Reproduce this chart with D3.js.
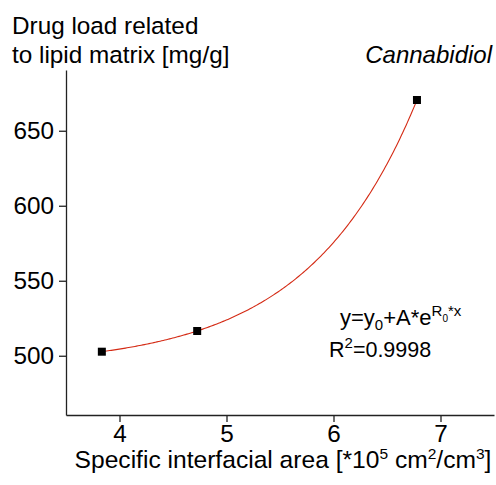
<!DOCTYPE html>
<html><head><meta charset="utf-8">
<script src="https://cdn.jsdelivr.net/npm/d3@7"></script>
<style>body{margin:0;background:#fff}svg{display:block;font-family:"Liberation Sans",Arial,sans-serif}</style>
</head><body><svg id="c" width="496" height="485"></svg>
<script>
const xValues = [3.835, 4.726, 6.78];
const yValues = [502.7, 516.5, 670.5];
const xTicks = [4, 5, 6, 7];
const yTicks = [500, 550, 600, 650];
const fitY0 = 492.8, fitA = 0.2312, fitR0 = 0.98;

const svg = d3.select("#c");
const x = d3.scaleLinear().domain([3.5, 7.5]).range([66, 494]);
const y = d3.scaleLinear().domain([460.5, 690.5]).range([415, 70]);
const ink = "#222";

// axes
const xMinor = d3.range(3.5, 7.51, 0.5).filter(v => !xTicks.includes(v));
const yMinor = [475, 525, 575, 625, 675];
const gx = svg.append("g").attr("transform", "translate(0,415)");
gx.call(d3.axisBottom(x).tickValues(xMinor).tickSize(4).tickFormat("")).call(g => g.select(".domain").remove());
gx.call(d3.axisBottom(x).tickValues(xTicks).tickSize(7).tickSizeOuter(0).tickPadding(3).tickFormat(d3.format("d")));
const gy = svg.append("g").attr("transform", "translate(66,0)");
gy.call(d3.axisLeft(y).tickValues(yMinor).tickSize(4).tickFormat("")).call(g => g.select(".domain").remove());
gy.call(d3.axisLeft(y).tickValues(yTicks).tickSize(7).tickSizeOuter(0).tickPadding(5).tickFormat(d3.format("d")));
svg.selectAll(".domain, .tick line").attr("stroke", ink).attr("stroke-width", 1.3);
svg.selectAll(".tick text").attr("fill", "#000").style("font-size", "24.3px").style("font-family", '"Liberation Sans",Arial,sans-serif');

// fit curve
const curveX = d3.range(0, 201).map(i => xValues[0] + (xValues[2] - xValues[0]) * i / 200);
const line = d3.line().x(d => x(d)).y(d => y(fitY0 + fitA * Math.exp(fitR0 * d)));
svg.append("path").datum(curveX).attr("d", line).attr("fill", "none").attr("stroke", "#d42a14").attr("stroke-width", 1.1);

// points
svg.selectAll("rect.pt").data(xValues).join("rect").attr("class", "pt")
  .attr("x", (d) => x(d) - 4).attr("y", (d, i) => y(yValues[i]) - 4)
  .attr("width", 8).attr("height", 8).attr("fill", "#000");

// labels
const T = (tx, ty, s, size, anchor) => svg.append("text").attr("x", tx).attr("y", ty).attr("font-size", size).attr("text-anchor", anchor || "start").text(s);
T(12, 34, "Drug load related", 24.3);
T(12, 63, "to lipid matrix [mg/g]", 24.3);
T(492, 63, "Cannabidiol", 24, "end").attr("font-style", "italic");

const xt = svg.append("text").attr("x", 283).attr("y", 468).attr("font-size", 24.6).attr("text-anchor", "middle");
xt.append("tspan").text("Specific interfacial area [*10");
xt.append("tspan").text("5").attr("font-size", 15.5).attr("dy", -9);
xt.append("tspan").text(" cm").attr("dy", 9);
xt.append("tspan").text("2").attr("font-size", 15.5).attr("dy", -9);
xt.append("tspan").text("/cm").attr("dy", 9);
xt.append("tspan").text("3").attr("font-size", 15.5).attr("dy", -9);
xt.append("tspan").text("]").attr("dy", 9);

const eq = svg.append("text").attr("x", 340).attr("y", 325).attr("font-size", 22);
eq.append("tspan").text("y=y");
eq.append("tspan").text("0").attr("font-size", 15).attr("dy", 5);
eq.append("tspan").text("+A*e").attr("dy", -5);
eq.append("tspan").text("R").attr("font-size", 15).attr("dy", -9);
eq.append("tspan").text("0").attr("font-size", 10).attr("dy", 6);
eq.append("tspan").text("*x").attr("font-size", 15).attr("dy", -6);

const r2 = svg.append("text").attr("x", 329).attr("y", 357).attr("font-size", 21.5);
r2.append("tspan").text("R");
r2.append("tspan").text("2").attr("font-size", 15).attr("dy", -9);
r2.append("tspan").text("=0.9998").attr("dy", 9);
</script></body></html>
